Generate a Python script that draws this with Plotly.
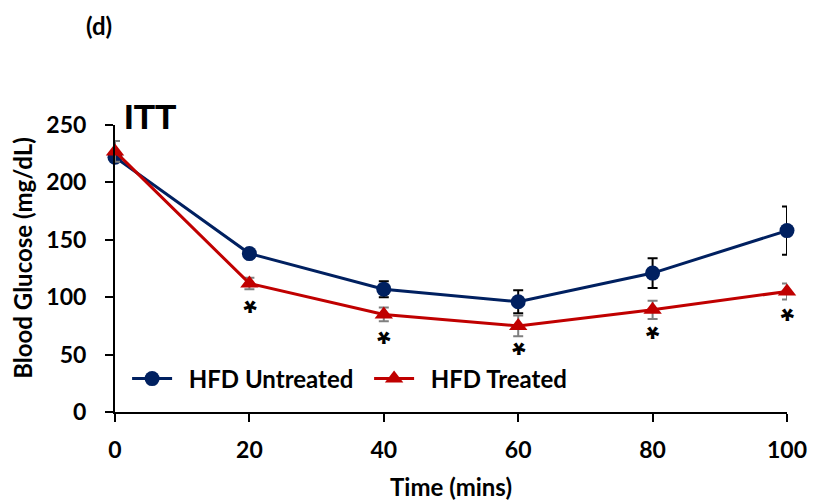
import plotly.graph_objects as go

time = [0, 20, 40, 60, 80, 100]
untreated = [222, 138, 107, 96, 121, 158]
untreated_err = [4, 3, 7, 10, 13, 21]
treated = [227, 112, 85, 75, 89, 105]
treated_err = [9, 5, 6, 9, 8, 7]
sig_times = [20, 40, 60, 80, 100]
x_ticks = [0, 20, 40, 60, 80, 100]
y_ticks = [0, 50, 100, 150, 200, 250]

NAVY = "#002060"
RED = "#C00000"
FONT = "Lato"
NB = "\u00a0\u00a0"

fig = go.Figure()
fig.add_trace(go.Scatter(
    x=time, y=untreated, name=NB + "HFD Untreated", mode="lines+markers",
    line=dict(color=NAVY, width=3),
    marker=dict(symbol="circle", size=15, color=NAVY),
    error_y=dict(type="data", array=untreated_err, color="black", thickness=2, width=5),
    cliponaxis=False,
))
fig.add_trace(go.Scatter(
    x=time, y=treated, name=NB + "HFD Treated", mode="lines+markers",
    line=dict(color=RED, width=3),
    marker=dict(symbol="triangle-up", size=16, color=RED),
    error_y=dict(type="data", array=treated_err, color="#7f7f7f", thickness=2, width=5),
    cliponaxis=False,
))

# significance asterisks (rotated 180deg so the glyph sits at the bottom of its text box)
for t in sig_times:
    v = treated[time.index(t)]
    fig.add_annotation(x=t, y=v, text="<b>*</b>", showarrow=False, textangle=180,
                       yshift=-18, font=dict(family="Liberation Sans", size=34, color="black"))

fig.add_annotation(xref="paper", yref="paper", x=0.0104, y=1.028, xanchor="left", yanchor="middle",
                   text="<b>ITT</b>", showarrow=False,
                   font=dict(family="Liberation Sans", size=35, color="black"))
fig.add_annotation(xref="paper", yref="paper", x=-0.0238, y=1.348, xanchor="center", yanchor="middle",
                   text="<b>(d)</b>", showarrow=False,
                   font=dict(family=FONT, size=24, color="black"))
fig.add_annotation(xref="paper", yref="paper", x=-0.137, y=0.537, xanchor="center", yanchor="middle",
                   text="<b>Blood Glucose (mg/dL)</b>", showarrow=False, textangle=-90,
                   font=dict(family=FONT, size=24, color="black"))

fig.update_layout(
    width=816, height=502,
    margin=dict(l=115, r=29, t=125, b=90),
    paper_bgcolor="white", plot_bgcolor="white",
    font=dict(family=FONT, size=18, color="black"),
    showlegend=True,
    legend=dict(orientation="h", x=0.018, y=0.115, xanchor="left", yanchor="middle",
                bgcolor="rgba(0,0,0,0)", font=dict(family=FONT, size=24, color="black", weight="bold"),
                itemwidth=40, tracegroupgap=0, entrywidth=187, entrywidthmode="pixels"),
    xaxis=dict(range=[0, 100], tickvals=x_ticks, showgrid=False, zeroline=False,
               showline=True, linecolor="black", linewidth=2, automargin=False,
               ticks="outside", ticklen=8, tickwidth=2, tickcolor="black",
               ticklabelstandoff=8,
               tickfont=dict(family=FONT, size=23, weight="bold"),
               title=dict(text="<b>Time (mins)</b>", font=dict(family=FONT, size=24), standoff=18)),
    yaxis=dict(range=[0, 250], tickvals=y_ticks, showgrid=False, zeroline=False,
               showline=True, linecolor="black", linewidth=2, automargin=False,
               ticks="outside", ticklen=8, tickwidth=2, tickcolor="black",
               ticklabelstandoff=14,
               tickfont=dict(family=FONT, size=23, weight="bold")),
)

fig.write_html("out.html")
